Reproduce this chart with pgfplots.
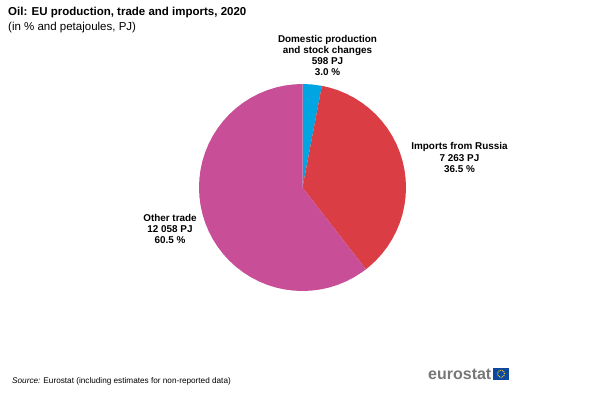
\documentclass[border=0pt]{standalone}
\usepackage{fontspec}
\setmainfont{Liberation Sans}
\usepackage{pgfplots}
\pgfplotsset{compat=1.18}
\usepgfplotslibrary{polar}
\definecolor{cdom}{RGB}{0,165,226}
\definecolor{crus}{RGB}{218,62,68}
\definecolor{coth}{RGB}{200,78,151}
\definecolor{cflag}{RGB}{14,71,160}
\definecolor{cstar}{RGB}{230,200,40}
\definecolor{clogo}{RGB}{120,120,120}
\begin{document}
\begin{tikzpicture}[x=1pt,y=1pt]
\path[use as bounding box] (0,0) rectangle (600,392);
\begin{polaraxis}[hide axis, scale only axis, width=207pt, height=207pt,
  at={(302.5pt,204.5pt)}, anchor=center, ymin=0, ymax=1, clip=false]
\addplot[fill=cdom, draw=none] coordinates {(0,0) (90,1) (85,1) (79.2,1) (0,0)};
\addplot[fill=crus, draw=none] coordinates {(0,0) (79.2,1) (75,1) (70,1) (65,1) (60,1) (55,1) (50,1) (45,1) (40,1) (35,1) (30,1) (25,1) (20,1) (15,1) (10,1) (5,1) (0,1) (-5,1) (-10,1) (-15,1) (-20,1) (-25,1) (-30,1) (-35,1) (-40,1) (-45,1) (-50,1) (-52.2,1) (0,0)};
\addplot[fill=coth, draw=none] coordinates {(0,0) (-52.2,1) (-55,1) (-60,1) (-65,1) (-70,1) (-75,1) (-80,1) (-85,1) (-90,1) (-95,1) (-100,1) (-105,1) (-110,1) (-115,1) (-120,1) (-125,1) (-130,1) (-135,1) (-140,1) (-145,1) (-150,1) (-155,1) (-160,1) (-165,1) (-170,1) (-175,1) (-180,1) (-185,1) (-190,1) (-195,1) (-200,1) (-205,1) (-210,1) (-215,1) (-220,1) (-225,1) (-230,1) (-235,1) (-240,1) (-245,1) (-250,1) (-255,1) (-260,1) (-265,1) (-270,1) (0,0)};
\end{polaraxis}
\node[anchor=base west,inner sep=0pt,font=\fontsize{11.5}{13}\selectfont\bfseries] at (8,376) {Oil: EU production, trade and imports, 2020};
\node[anchor=base west,inner sep=0pt,font=\fontsize{11.5}{13}\selectfont] at (8,362) {(in \% and petajoules, PJ)};
\node[align=center,inner sep=0pt,font=\fontsize{9.9}{11.2}\selectfont\bfseries] at (327.5,336.5) {Domestic production\\and stock changes\\598 PJ\\3.0 \%};
\node[align=center,inner sep=0pt,font=\fontsize{9.9}{11.2}\selectfont\bfseries] at (459.5,234.5) {Imports from Russia\\7 263 PJ\\36.5 \%};
\node[align=center,inner sep=0pt,font=\fontsize{9.9}{11.2}\selectfont\bfseries] at (170,163) {Other trade\\12 058 PJ\\60.5 \%};
\node[anchor=base west,inner sep=0pt,font=\fontsize{8.2}{10}\selectfont] at (12,8.5) {\textit{Source:} Eurostat (including estimates for non-reported data)};
\node[anchor=base west,inner sep=0pt,text=clogo,font=\fontsize{16}{18}\selectfont\bfseries] at (428,12.5) {eurostat};
\fill[cflag] (493,12.5) rectangle (509,24);
\draw[cstar,line width=1pt,dash pattern=on 0.9pt off 0.9pt] (501,18.2) circle (3.6);
\end{tikzpicture}
\end{document}
